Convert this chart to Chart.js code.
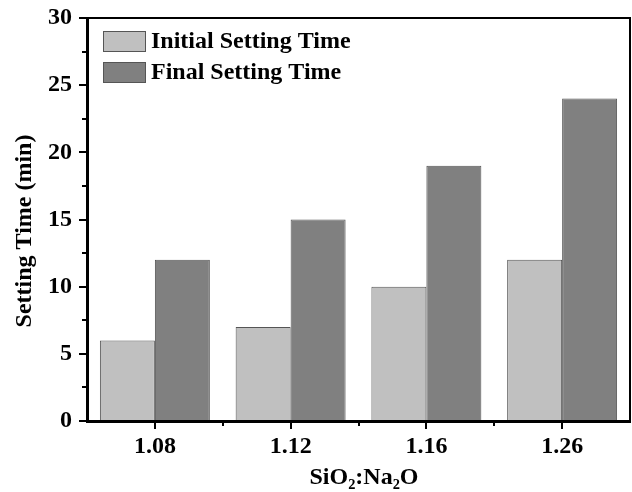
<!DOCTYPE html>
<html>
<head>
<meta charset="utf-8">
<script src="https://cdn.jsdelivr.net/npm/chart.js@4/dist/chart.umd.min.js"></script>
<style>
  html, body { margin: 0; padding: 0; background: #fff; }
  #wrap { width: 632px; height: 492px; }
</style>
</head>
<body>
<div id="wrap"><canvas id="settingChart" width="632" height="492"></canvas></div>
<script>
// valores do grafico
const ratios = ['1.08', '1.12', '1.16', '1.26'];
const initialTime = [6, 7, 10, 12];
const finalTime = [12, 15, 19, 24];
const seriesNames = ['Initial Setting Time', 'Final Setting Time'];
const yTicks = [0, 5, 10, 15, 20, 25, 30];
const xTitle = 'SiO\u2082:Na\u2082O';
const yTitle = 'Setting Time (min)';

const serif = "'Liberation Serif', 'Times New Roman', serif";
const fills = ['#c0c0c0', '#808080'];

// moldura, ticks menores, titulos e legenda
const framePlugin = {
  id: 'frame',
  afterDraw(chart) {
    const ctx = chart.ctx;
    const a = chart.chartArea;
    const x = chart.scales.x, y = chart.scales.y;
    ctx.save();
    ctx.strokeStyle = '#000';
    ctx.lineWidth = 2;
    ctx.beginPath();
    ctx.moveTo(a.left, a.top);
    ctx.lineTo(a.right, a.top);
    ctx.lineTo(a.right, a.bottom);
    ctx.stroke();

    // ticks menores no eixo y
    for (let v = 2.5; v < 30; v += 5) {
      const py = Math.round(y.getPixelForValue(v));
      ctx.beginPath();
      ctx.moveTo(a.left - 5, py);
      ctx.lineTo(a.left, py);
      ctx.stroke();
    }
    // ticks menores no eixo x (entre categorias)
    for (let i = 0; i < ratios.length - 1; i++) {
      const px = Math.round((x.getPixelForValue(i) + x.getPixelForValue(i + 1)) / 2);
      ctx.beginPath();
      ctx.moveTo(px, a.bottom);
      ctx.lineTo(px, a.bottom + 5);
      ctx.stroke();
    }

    ctx.font = 'bold 24px ' + serif;
    ctx.fillStyle = '#000';
    ctx.textBaseline = 'middle';
    ctx.textAlign = 'center';
    // titulos dos eixos
    ctx.fillText(xTitle, 364, 478);
    ctx.save();
    ctx.translate(25, 231);
    ctx.rotate(-Math.PI / 2);
    ctx.fillText(yTitle, 0, 0);
    ctx.restore();

    // legenda
    ctx.textAlign = 'left';
    chart.data.datasets.forEach((ds, i) => {
      const top = 31 + i * 31;
      ctx.fillStyle = ds.backgroundColor;
      ctx.fillRect(103, top, 43, 21);
      ctx.strokeStyle = '#555';
      ctx.lineWidth = 1;
      ctx.strokeRect(103.5, top + 0.5, 42, 20);
      ctx.fillStyle = '#000';
      ctx.fillText(ds.label, 151, top + 11);
    });
    ctx.restore();
  }
};

const tickFont = { family: serif, size: 24, weight: 'bold' };

new Chart(document.getElementById('settingChart'), {
  type: 'bar',
  data: {
    labels: ratios,
    datasets: [
      {
        label: seriesNames[0],
        data: initialTime,
        backgroundColor: fills[0],
        borderColor: '#555',
        borderWidth: 1,
        borderSkipped: 'bottom',
      },
      {
        label: seriesNames[1],
        data: finalTime,
        backgroundColor: fills[1],
        borderColor: '#555',
        borderWidth: 1,
        borderSkipped: 'bottom',
      }
    ]
  },
  options: {
    responsive: false,
    animation: false,
    devicePixelRatio: 1,
    layout: { padding: { top: 18, right: 2, left: 0, bottom: 0 } },
    datasets: { bar: { categoryPercentage: 0.81, barPercentage: 1.0 } },
    plugins: {
      legend: { display: false },
      tooltip: { enabled: false },
    },
    scales: {
      x: {
        offset: true,
        afterFit(scale) { scale.height = 71; scale.paddingLeft = 0; scale.paddingRight = 0; },
        grid: { display: true, drawOnChartArea: false, offset: false, color: '#000', lineWidth: 2, tickLength: 8 },
        border: { display: true, color: '#000', width: 3 },
        ticks: { color: '#000', font: tickFont, padding: 3 }
      },
      y: {
        min: 0,
        max: 30,
        afterFit(scale) { scale.width = 87; scale.paddingTop = 0; scale.paddingBottom = 0; },
        afterBuildTicks(scale) { scale.ticks = yTicks.map(v => ({ value: v })); },
        grid: { display: true, drawOnChartArea: false, color: '#000', lineWidth: 2, tickLength: 8 },
        border: { display: true, color: '#000', width: 3 },
        ticks: { color: '#000', font: tickFont, padding: 7 }
      }
    }
  },
  plugins: [framePlugin]
});
</script>
</body>
</html>
